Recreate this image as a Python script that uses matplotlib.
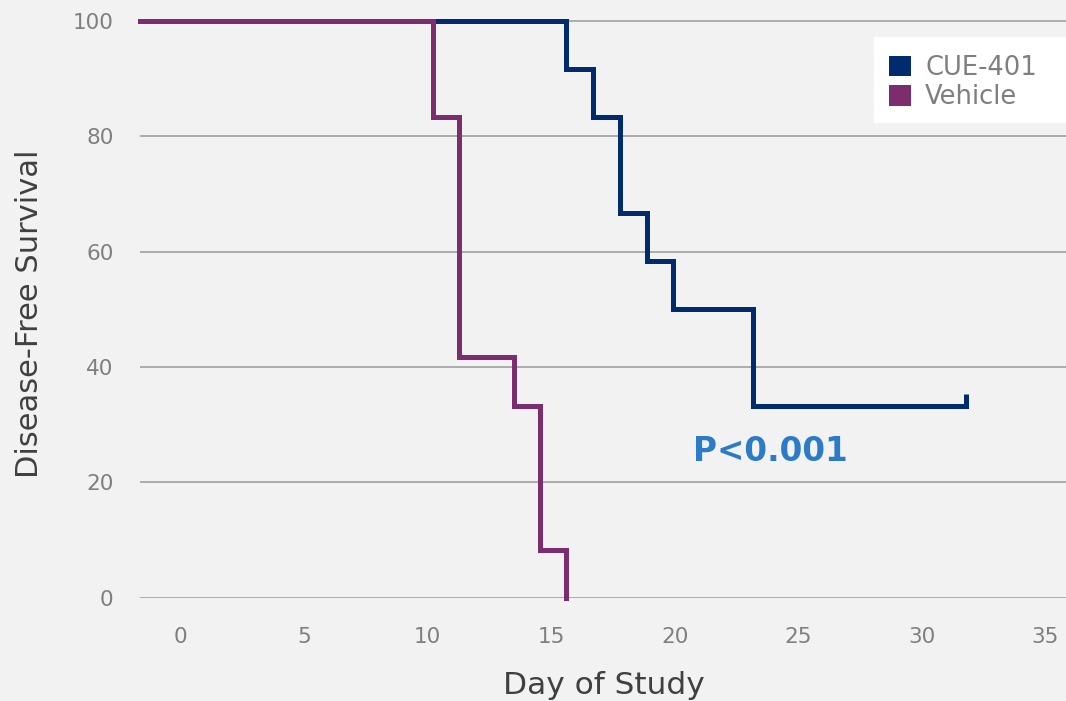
import matplotlib
matplotlib.use("Agg")
import matplotlib.pyplot as plt
from matplotlib.patches import Patch, Rectangle

# ---- data ----
series_names = ["CUE-401", "Vehicle"]
cue_days = [-1.64, 15.60, 16.71, 17.77, 18.88, 19.93, 23.17, 31.79]
cue_surv = [100.0, 91.7, 83.3, 66.7, 58.3, 50.0, 33.3, 33.3]
cue_censor_day = 31.79
veh_days = [-1.64, 10.22, 11.29, 13.48, 14.53, 15.60]
veh_surv = [100.0, 83.3, 41.7, 33.3, 8.3, 0.0]
x_ticks = [0, 5, 10, 15, 20, 25, 30, 35]
y_ticks = [0, 20, 40, 60, 80, 100]
p_text = "P<0.001"

# ---- style ----
BG = "#f2f2f2"
NAVY = "#002b6e"
PURPLE = "#7b2d6e"
GRID = "#a6a6a6"
TICKC = "#7f7f7f"
LABELC = "#404040"
plt.rcParams['font.family'] = ['DejaVu Sans']

W, H = 1066, 701
fig = plt.figure(figsize=(W / 100, H / 100), dpi=100, facecolor=BG)
ax = fig.add_axes([140 / W, 1 - 597.7 / H, 1 - 140 / W, 597.7 / H])
ax.set_facecolor(BG)
ax.set_xlim(-1.64, 35.84)
ax.set_ylim(0, 103.6)

for s in ax.spines.values():
    s.set_visible(False)
ax.set_xticks(x_ticks)
ax.set_yticks(y_ticks)
ax.tick_params(axis='both', length=0, labelsize=15.5, labelcolor=TICKC)
ax.tick_params(axis='x', pad=21)
ax.tick_params(axis='y', pad=19)
ax.yaxis.grid(True, color=GRID, linewidth=1.3)
ax.xaxis.grid(False)
ax.set_axisbelow(True)

lw = 3.6
ax.plot(cue_days, cue_surv, drawstyle='steps-post', color=NAVY, lw=lw,
        clip_on=False, solid_joinstyle='miter', zorder=3)
ax.plot([cue_censor_day, cue_censor_day], [cue_surv[-1], cue_surv[-1] + 2.0],
        color=NAVY, lw=lw, solid_capstyle='butt', clip_on=False, zorder=3)
ax.plot(veh_days, veh_surv, drawstyle='steps-post', color=PURPLE, lw=lw,
        clip_on=False, solid_joinstyle='miter', zorder=4)

ax.text(23.86, 25.4, p_text, color="#2b7bc8", fontsize=23.5, fontweight='bold',
        ha='center', va='center')

fig.text(30 / W, 1 - 314 / H, "Disease-Free Survival", rotation=90,
         ha='center', va='center', fontsize=22, color=LABELC)
fig.text(604 / W, 1 - 686 / H, "Day of Study", ha='center', va='center',
         fontsize=22.5, color=LABELC)

# legend box
fig.patches.append(Rectangle((874 / W, 1 - 123 / H), (W - 874) / W, 86 / H,
                             transform=fig.transFigure, facecolor='white',
                             edgecolor='none', zorder=5))
handles = [Patch(facecolor=NAVY, edgecolor='none'),
           Patch(facecolor=PURPLE, edgecolor='none')]
leg = fig.legend(handles, series_names, loc='upper left',
                 bbox_to_anchor=(889 / W, 1 - 55 / H), frameon=False,
                 fontsize=18.5, handlelength=0.86, handleheight=0.86,
                 handletextpad=0.55, labelspacing=0.12, borderpad=0,
                 borderaxespad=0)
leg.set_zorder(6)
for t in leg.get_texts():
    t.set_color(TICKC)

fig.savefig("out.png", dpi=100, facecolor=BG)
